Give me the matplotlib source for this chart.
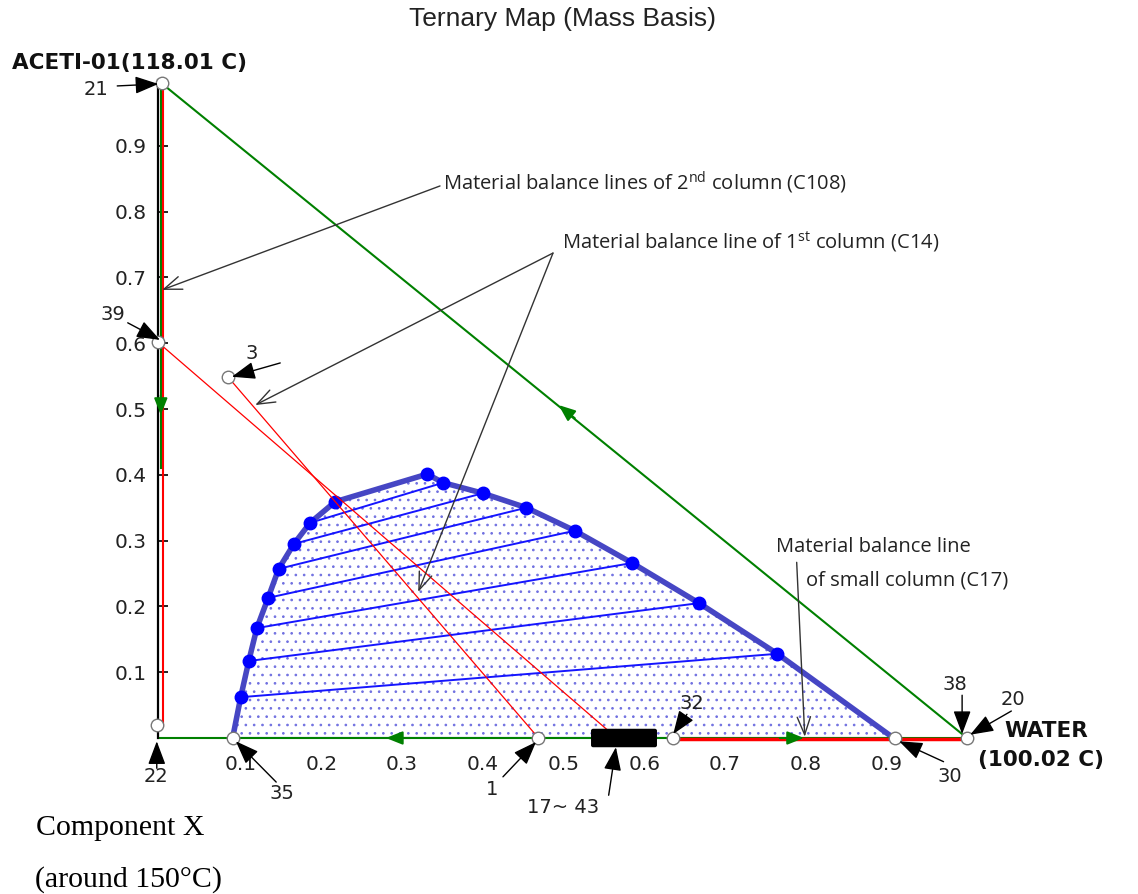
import numpy as np
import matplotlib
matplotlib.use('Agg')
import matplotlib.pyplot as plt
from matplotlib.patches import Polygon, FancyBboxPatch

# ---- data (x = water mass fraction, y = acetic acid mass fraction) ----
binodal_x = [0.090, 0.100, 0.110, 0.120, 0.134, 0.147, 0.166, 0.186, 0.217,
             0.331, 0.351, 0.400, 0.454, 0.514, 0.585, 0.668, 0.765, 0.909]
binodal_y = [0.000, 0.062, 0.117, 0.167, 0.213, 0.257, 0.295, 0.327, 0.359,
             0.401, 0.388, 0.372, 0.350, 0.315, 0.266, 0.205, 0.128, 0.000]
tie_left = [1, 2, 3, 4, 5, 6, 7, 8]
tie_right = [16, 15, 14, 13, 12, 11, 10, 9]

# streams (open circles)
stream_x = [0.002, -0.004, -0.003, 0.084, 0.090, 0.469, 0.636, 0.911, 1.000]
stream_y = [0.995, 0.020, 0.602, 0.549, 0.000, 0.000, 0.000, 0.000, 0.000]

# stream labels: text position, arrow tail, arrow head
label_text = ['21', '22', '39', '3', '35', '1', '17~ 43', '32', '30', '38', '20']
label_x = [-0.079, -0.005, -0.059, 0.114, 0.151, 0.411, 0.499, 0.659, 0.979, 0.985, 1.057]
label_y = [0.985, -0.059, 0.643, 0.585, -0.084, -0.079, -0.106, 0.053, -0.058, 0.081, 0.058]
tail_x = [-0.053, -0.004, -0.040, 0.149, 0.144, 0.425, 0.556, 0.653, 0.971, 0.994, 1.055]
tail_y = [0.991, -0.046, 0.631, 0.570, -0.067, -0.059, -0.087, 0.036, -0.036, 0.065, 0.041]
head_x = [-0.002, -0.004, 0.000, 0.089, 0.094, 0.466, 0.565, 0.636, 0.916, 0.994, 1.004]
head_y = [0.994, -0.005, 0.605, 0.549, -0.005, -0.006, -0.014, 0.006, -0.005, 0.006, 0.005]

# material balance lines
green_x = [[0.002, 1.0], [0.001, 0.001], [0.0, 1.0]]
green_y = [[0.995, 0.0], [0.995, 0.41], [0.0, 0.0]]
red_x = [[0.004, 0.004], [-0.003, 0.566], [0.084, 0.469], [0.636, 1.0]]
red_y = [[0.995, 0.020], [0.602, 0.0], [0.549, 0.0], [-0.002, -0.002]]
red_lw = [1.5, 0.9, 0.9, 2.5]

# direction arrows on green lines
garrow_x = [0.514, 0.001, 0.31, 0.768]
garrow_y = [0.486, 0.521, 0.0, 0.0]
garrow_dx = [-0.02, 0.0, -0.03, 0.03]
garrow_dy = [0.02, -0.03, 0.0, 0.0]

x_ticks = [0.1, 0.2, 0.3, 0.4, 0.5, 0.6, 0.7, 0.8, 0.9]
y_ticks = [0.1, 0.2, 0.3, 0.4, 0.5, 0.6, 0.7, 0.8, 0.9]

plt.rcParams['mathtext.fontset'] = 'custom'
plt.rcParams['mathtext.rm'] = 'Open Sans'
plt.rcParams['hatch.linewidth'] = 0.7

fig = plt.figure(figsize=(11.38, 8.94), dpi=100)
ax = fig.add_axes([0.1406, 0.1745, 0.7091, 0.7360])
ax.set_xlim(0, 1)
ax.set_ylim(0, 1)

for s in ['top', 'right', 'bottom']:
    ax.spines[s].set_visible(False)
ax.spines['left'].set_position(('data', -0.003))
ax.spines['left'].set_linewidth(1.6)
ax.set_xticks(x_ticks)
ax.set_xticklabels([f'{v:.1f}' for v in x_ticks])
ax.set_yticks(y_ticks)
ax.set_yticklabels([f'{v:.1f}' for v in y_ticks])
ax.tick_params(axis='y', direction='in', length=7, width=1.2, pad=8,
               labelsize=14.5, labelcolor='#222222')
ax.tick_params(axis='x', length=0, pad=12, labelsize=14.5, labelcolor='#222222')

# two-phase region
pts = np.column_stack([binodal_x, binodal_y])
ax.add_patch(Polygon(pts, closed=True, facecolor='none', edgecolor='#7070e0',
                     hatch='..', lw=0))
ax.plot([binodal_x[0], binodal_x[-1]], [0, 0], color='#3030e0', lw=1.5)
for l, r in zip(tie_left, tie_right):
    ax.plot([binodal_x[l], binodal_x[r]], [binodal_y[l], binodal_y[r]],
            color='#1515ff', lw=1.4)
ax.plot(binodal_x, binodal_y, color='#4646c4', lw=4, solid_capstyle='round')
ax.plot(binodal_x[1:-1], binodal_y[1:-1], 'o', color='#0000ff', ms=9)

# material balance lines
for xs, ys in zip(green_x, green_y):
    ax.plot(xs, ys, color='#008000', lw=1.5, clip_on=False)
for xs, ys, lw in zip(red_x, red_y, red_lw):
    ax.plot(xs, ys, color='#ff0000', lw=lw, clip_on=False)
for x, y, dx, dy in zip(garrow_x, garrow_y, garrow_dx, garrow_dy):
    ax.annotate('', xy=(x + dx, y + dy), xytext=(x, y),
                arrowprops=dict(arrowstyle='-|>,head_length=1.0,head_width=0.4',
                                color='#008000', lw=1.5, shrinkA=0, shrinkB=0),
                annotation_clip=False)

# black box covering streams 17~43
ax.add_patch(FancyBboxPatch((0.537, -0.011), 0.076, 0.022,
                            boxstyle='round,pad=0.002', facecolor='black',
                            edgecolor='black', clip_on=False, zorder=5))

ax.plot(stream_x, stream_y, 'o', mfc='white', mec='#777777', ms=9, mew=1,
        clip_on=False, zorder=6)

for t, lx, ly, tx, ty, hx, hy in zip(label_text, label_x, label_y,
                                     tail_x, tail_y, head_x, head_y):
    ax.text(lx, ly, t, fontsize=14, color='#222222', ha='center', va='center')
    ax.annotate('', xy=(hx, hy), xytext=(tx, ty),
                arrowprops=dict(arrowstyle='-|>,head_length=0.8,head_width=0.3',
                                color='black', lw=1.0, shrinkA=0, shrinkB=0,
                                mutation_scale=18),
                annotation_clip=False, zorder=7)

# annotation texts
note_kw = dict(fontsize=14.5, family='Open Sans', color='#222222', va='center', ha='left')
gray_arrow = dict(arrowstyle='->,head_length=0.8,head_width=0.3', color='#333333',
                  lw=1.0, shrinkA=0, shrinkB=0, mutation_scale=16)
ax.text(0.351, 0.843, 'Material balance lines of 2$^{\\mathrm{nd}}$ column (C108)', **note_kw)
ax.annotate('', xy=(0.0025, 0.681), xytext=(0.347, 0.839), arrowprops=gray_arrow)
ax.text(0.498, 0.754, 'Material balance line of 1$^{\\mathrm{st}}$ column (C14)', **note_kw)
ax.annotate('', xy=(0.118, 0.506), xytext=(0.487, 0.737), arrowprops=gray_arrow)
ax.annotate('', xy=(0.320, 0.222), xytext=(0.487, 0.737), arrowprops=gray_arrow)
ax.text(0.763, 0.290, 'Material balance line', **note_kw)
ax.text(0.800, 0.240, 'of small column (C17)', **note_kw)
ax.annotate('', xy=(0.799, 0.002), xytext=(0.789, 0.267), arrowprops=gray_arrow)

# titles and component names
fig.text(0.494, 0.979, 'Ternary Map (Mass Basis)', ha='center', va='center',
         fontsize=19, family='Liberation Sans', color='#222222')
fig.text(0.0105, 0.9295, 'ACETI-01(118.01 C)', ha='left', va='center',
         fontsize=15.5, fontweight='bold', color='#111111')
fig.text(0.883, 0.182, 'WATER', ha='left', va='center',
         fontsize=15.5, fontweight='bold', color='#111111')
fig.text(0.859, 0.150, '(100.02 C)', ha='left', va='center',
         fontsize=15.5, fontweight='bold', color='#111111')
fig.text(0.106, 0.074, 'Component X', ha='center', va='center',
         fontsize=21.5, family='Liberation Serif', color='black')
fig.text(0.1125, 0.0157, '(around 150°C)', ha='center', va='center',
         fontsize=21.5, family='Liberation Serif', color='black')

fig.savefig('out.png', dpi=100)
